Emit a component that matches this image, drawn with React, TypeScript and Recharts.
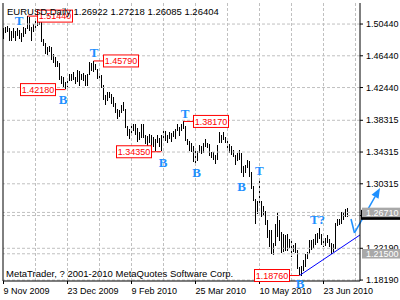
import React from 'react';
import { ComposedChart, Bar, XAxis, YAxis, ReferenceLine, ReferenceDot } from 'recharts';

// daily highs / lows, 9 Nov 2009 .. 9 Jul 2010 (one entry per trading day)
const highs = [
  // Nov
  1.5000, 1.5010, 1.5020, 1.4990, 1.4950, 1.5000, 1.4960, 1.4990, 1.4970, 1.4930, 1.5010, 1.5000, 1.5144, 1.5130, 1.5010, 1.5050,
  // Dec
  1.5110, 1.5100, 1.5110, 1.5120, 1.4850, 1.4800, 1.4760, 1.4770, 1.4750, 1.4670, 1.4630, 1.4580, 1.4550, 1.4390, 1.4380, 1.4310,
  1.4360, 1.4420, 1.4410, 1.4440, 1.4380, 1.4460,
  // Jan
  1.4450, 1.4420, 1.4430, 1.4400, 1.4420, 1.4560, 1.4550, 1.4579, 1.4540, 1.4480, 1.4430, 1.4400, 1.4270, 1.4150, 1.4190, 1.4190,
  1.4160, 1.4120, 1.4050, 1.3980,
  // Feb
  1.3960, 1.4030, 1.4060, 1.3970, 1.3760, 1.3720, 1.3800, 1.3790, 1.3790, 1.3730, 1.3690, 1.3790, 1.3790, 1.3640, 1.3630, 1.3660,
  1.3650, 1.3620, 1.3590, 1.3640,
  // Mar
  1.3610, 1.3640, 1.3740, 1.3700, 1.3650, 1.3690, 1.3670, 1.3700, 1.3720, 1.3790, 1.3750, 1.3790, 1.3817, 1.3760, 1.3600, 1.3570,
  1.3550, 1.3510, 1.3450, 1.3450, 1.3520, 1.3510, 1.3540,
  // Apr
  1.3590, 1.3540, 1.3530, 1.3430, 1.3430, 1.3400, 1.3520, 1.3690, 1.3640, 1.3680, 1.3620, 1.3570, 1.3530, 1.3510, 1.3460, 1.3400,
  1.3420, 1.3460, 1.3420, 1.3250, 1.3270, 1.3330,
  // May
  1.3320, 1.3180, 1.3010, 1.2840, 1.2810, 1.3094, 1.2820, 1.2750, 1.2690, 1.2580, 1.2450, 1.2450, 1.2290, 1.2530, 1.2670, 1.2570,
  1.2420, 1.2400, 1.2390, 1.2400, 1.2330,
  // Jun
  1.2340, 1.2260, 1.2290, 1.2200, 1.1980, 1.2000, 1.2070, 1.2150, 1.2170, 1.2320, 1.2320, 1.2340, 1.2400, 1.2410, 1.2470, 1.2400,
  1.2310, 1.2350, 1.2390, 1.2330, 1.2290, 1.2270,
  // Jul
  1.2540, 1.2590, 1.2590, 1.2670, 1.2670, 1.2720, 1.27218,
];

const lows = [
  1.4860, 1.4940, 1.4950, 1.4830, 1.4830, 1.4880, 1.4830, 1.4890, 1.4860, 1.4820, 1.4890, 1.4920, 1.4980, 1.4950, 1.4830, 1.4950,
  1.5000, 1.5020, 1.5030, 1.4820, 1.4760, 1.4660, 1.4660, 1.4700, 1.4580, 1.4560, 1.4510, 1.4500, 1.4330, 1.4290, 1.4260, 1.4218,
  1.4250, 1.4330, 1.4320, 1.4340, 1.4290, 1.4310,
  1.4260, 1.4340, 1.4330, 1.4260, 1.4270, 1.4400, 1.4450, 1.4440, 1.4460, 1.4350, 1.4360, 1.4240, 1.4080, 1.4030, 1.4080, 1.4110,
  1.4030, 1.4000, 1.3930, 1.3850,
  1.3870, 1.3930, 1.3950, 1.3730, 1.3635, 1.3600, 1.3650, 1.3700, 1.3650, 1.3550, 1.3590, 1.3610, 1.3610, 1.3530, 1.3440, 1.3550,
  1.3480, 1.3500, 1.3440, 1.3540,
  1.3500, 1.3435, 1.3580, 1.3580, 1.3550, 1.3600, 1.3560, 1.3620, 1.3600, 1.3700, 1.3640, 1.3700, 1.3720, 1.3570, 1.3520, 1.3440,
  1.3440, 1.3310, 1.3267, 1.3330, 1.3420, 1.3410, 1.3420,
  1.3490, 1.3480, 1.3380, 1.3360, 1.3330, 1.3290, 1.3330, 1.3550, 1.3540, 1.3580, 1.3540, 1.3440, 1.3420, 1.3400, 1.3370, 1.3280,
  1.3320, 1.3340, 1.3170, 1.3110, 1.3170, 1.3230,
  1.3120, 1.2960, 1.2820, 1.2520, 1.2640, 1.2760, 1.2620, 1.2620, 1.2510, 1.2350, 1.2230, 1.2150, 1.2140, 1.2250, 1.2350, 1.2310,
  1.2150, 1.2170, 1.2190, 1.2190, 1.2220,
  1.2110, 1.2170, 1.2170, 1.1960, 1.1876, 1.1880, 1.1930, 1.1980, 1.2080, 1.2140, 1.2200, 1.2230, 1.2260, 1.2290, 1.2330, 1.2260,
  1.2240, 1.2250, 1.2290, 1.2230, 1.2150, 1.2170,
  1.2210, 1.2500, 1.2510, 1.2520, 1.2570, 1.2620, 1.26085,
];

const dateTicks = [0, 32, 64, 96, 128, 160];
const dateLabels = ['9 Nov 2009', '23 Dec 2009', '9 Feb 2010', '25 Mar 2010', '10 May 2010', '23 Jun 2010'];
const gridTicks = [16, 32, 48, 64, 80, 96, 112, 128, 144, 160, 176];
const priceTicks = [1.5044, 1.4644, 1.4244, 1.38315, 1.34315, 1.30315, 1.26315, 1.2219, 1.1819];

// zigzag pivots with price flags
const pivotIdx = [12, 31, 45, 79, 90, 148];
const pivotPrice = [1.5144, 1.4218, 1.4579, 1.3435, 1.3817, 1.1876];
const pivotSide = ['right', 'left', 'right', 'left', 'right', 'left'];

// T / B marks
const markIdx = [7.75, 29.75, 45.25, 79.75, 90.75, 96.5, 119, 127.9, 157, 148.25];
const markPrice = [1.5094, 1.4099, 1.4691, 1.3306, 1.3923, 1.318, 1.3001, 1.3205, 1.2588, 1.1782];
const markText = ['T', 'B', 'T', 'B', 'T', 'B', 'B', 'T', 'T?', 'B'];

const trendIdx = [148, 178.25];
const trendPrice = [1.1876, 1.2387];
const arrowIdx = [173.75, 175.5, 188.25];
const arrowPrice = [1.2588, 1.2412, 1.2979];

const levels = [1.2671, 1.215];
const bidPrice = 1.26404;
const header = 'EURUSD,Daily 1.26922 1.27218 1.26085 1.26404';
const copyright = 'MetaTrader, ? 2001-2010 MetaQuotes Software Corp.';

const FONT = '"Liberation Sans", Arial, sans-serif';
const GRID = '#c0c0c0';
const DOMAIN_Y: [number, number] = [1.1807, 1.5309];

const data = highs.map((h, i) => ({ i, hl: [lows[i], h] }));

const HLBar = (p: any) => {
  if (p.height == null || isNaN(p.x)) return null;
  const x = Math.floor(p.x + p.width / 2);
  return <rect x={x} y={Math.round(p.y)} width={1} height={Math.max(1, Math.round(p.height))} fill="#000" />;
};

const DateTick = (p: any) => {
  const k = dateTicks.indexOf(p.payload.value);
  return (
    <text x={p.x} y={p.y} dy="0.71em" textAnchor="start" fontSize={9} fontFamily={FONT} fill="#000">
      {dateLabels[k]}
    </text>
  );
};

// price boxes sitting on the right scale (bid in black, levels in grey)
const LevelTick = (p: any) => {
  const v = p.payload.value;
  const right = p.x + 1;
  if (v === bidPrice) {
    return <rect x={right - 39} y={p.y - 5} width={39} height={10} fill="#000" />;
  }
  return (
    <g>
      <rect x={right - 38} y={p.y - 4.75} width={38} height={9.5} fill="#a8a8a8" />
      <text x={right - 34} y={p.y} dy="0.36em" fontSize={9} fontFamily={FONT} fill="#fff">{v.toFixed(5)}</text>
    </g>
  );
};

const flagShape = (price: number, side: string) => (p: any) => {
  const w = 35, h = 12, gap = 10;
  const bx = side === 'right' ? p.cx + gap : p.cx - gap - w;
  const lx = side === 'right' ? bx : bx + w;
  return (
    <g>
      <line x1={p.cx} y1={p.cy} x2={lx} y2={p.cy} stroke="#ff0000" />
      <rect x={bx} y={p.cy - h / 2} width={w} height={h} fill="#fff" stroke="#ff0000" />
      <text x={bx + w / 2} y={p.cy} dy="0.36em" textAnchor="middle" fontSize={9} fontFamily={FONT} fill="#ff0000">
        {price.toFixed(5)}
      </text>
    </g>
  );
};

const markShape = (txt: string) => (p: any) => (
  <text x={p.cx} y={p.cy} dy="0.35em" textAnchor="middle" fontSize={13} fontWeight="bold"
    fontFamily='"Liberation Serif", "DejaVu Serif", serif' fill="#1e90ff">
    {txt}
  </text>
);

const arrowShape = (p: any) => {
  const dx = p.x2 - p.x1, dy = p.y2 - p.y1;
  const len = Math.sqrt(dx * dx + dy * dy);
  const ux = dx / len, uy = dy / len;
  const bx = p.x2 - ux * 10, by = p.y2 - uy * 10;
  return (
    <g>
      <line x1={p.x1} y1={p.y1} x2={bx} y2={by} stroke="#1e90ff" strokeWidth={1.5} />
      <polygon
        points={`${p.x2},${p.y2} ${bx - uy * 4},${by + ux * 4} ${bx + uy * 4},${by - ux * 4}`}
        fill="#1e90ff"
      />
    </g>
  );
};

export default function App() {
  return (
    <div style={{ position: 'absolute', left: 0, top: 0, width: 400, height: 300, background: '#fff' }}>
      <ComposedChart width={400} height={300} data={data} margin={{ top: 3, right: 0, bottom: 0, left: 3 }}>
        <XAxis
          dataKey="i"
          type="number"
          domain={[-0.25, 178.25]}
          allowDataOverflow
          ticks={dateTicks}
          interval={0}
          height={19}
          tickSize={3}
          tickMargin={4}
          axisLine={{ stroke: '#000' }}
          tickLine={{ stroke: '#000' }}
          tick={<DateTick />}
        />
        <YAxis
          orientation="right"
          type="number"
          domain={DOMAIN_Y}
          allowDataOverflow
          ticks={priceTicks}
          interval={0}
          width={39}
          tickSize={3}
          tickMargin={3}
          axisLine={{ stroke: '#000' }}
          tickLine={{ stroke: '#000' }}
          tick={{ fontSize: 9, fill: '#000', fontFamily: FONT }}
          tickFormatter={(v: number) => v.toFixed(5)}
        />
        <YAxis
          yAxisId="levels"
          orientation="right"
          type="number"
          domain={DOMAIN_Y}
          allowDataOverflow
          ticks={[bidPrice, ...levels]}
          interval={0}
          width={1}
          tickSize={0}
          tickMargin={0}
          axisLine={false}
          tickLine={false}
          tick={<LevelTick />}
        />
        {gridTicks.map((t) => (
          <ReferenceLine key={'gx' + t} x={t} stroke={GRID} strokeDasharray="3 2" />
        ))}
        {priceTicks.map((t) => (
          <ReferenceLine key={'gy' + t} y={t} stroke={GRID} strokeDasharray="3 2" />
        ))}
        {levels.map((l) => (
          <ReferenceLine key={'lv' + l} y={l} stroke={GRID} strokeDasharray="3 2" />
        ))}
        <ReferenceLine x={-0.25} stroke="#000" />
        <Bar dataKey="hl" barSize={1} shape={HLBar} isAnimationActive={false} />
        <ReferenceLine
          segment={[{ x: trendIdx[0], y: trendPrice[0] }, { x: trendIdx[1], y: trendPrice[1] }]}
          stroke="#0000ff"
          ifOverflow="visible"
        />
        <ReferenceLine
          segment={[{ x: arrowIdx[0], y: arrowPrice[0] }, { x: arrowIdx[1], y: arrowPrice[1] }]}
          stroke="#1e90ff"
          strokeWidth={1.5}
          ifOverflow="visible"
        />
        <ReferenceLine
          segment={[{ x: arrowIdx[1], y: arrowPrice[1] }, { x: arrowIdx[2], y: arrowPrice[2] }]}
          shape={arrowShape}
          ifOverflow="visible"
        />
        {pivotIdx.map((x, k) => (
          <ReferenceDot key={'pv' + k} x={x} y={pivotPrice[k]} ifOverflow="visible" shape={flagShape(pivotPrice[k], pivotSide[k])} />
        ))}
        {markIdx.map((x, k) => (
          <ReferenceDot key={'mk' + k} x={x} y={markPrice[k]} ifOverflow="visible" shape={markShape(markText[k])} />
        ))}
      </ComposedChart>
      <svg width={400} height={300} style={{ position: 'absolute', left: 0, top: 0, pointerEvents: 'none' }}>
        <text x={7} y={14.5} fontSize={9.5} fontFamily={FONT} fill="#000">{header}</text>
        <text x={6} y={277} fontSize={9.5} fontFamily={FONT} fill="#000">{copyright}</text>
      </svg>
    </div>
  );
}
